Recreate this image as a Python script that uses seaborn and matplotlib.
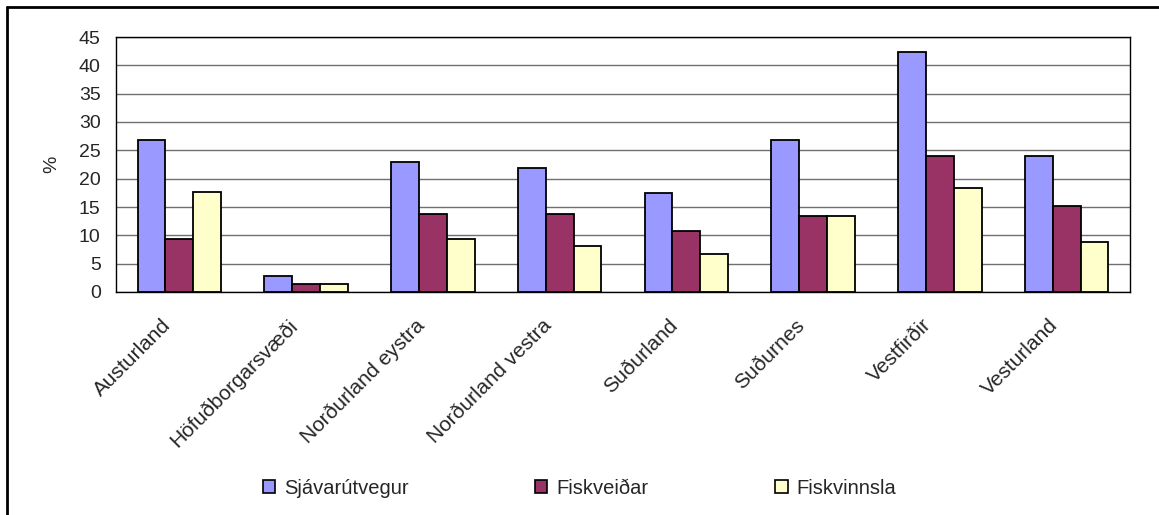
import numpy as np
import pandas as pd
import matplotlib
matplotlib.use("Agg")
import matplotlib.pyplot as plt
import matplotlib.transforms as mtransforms
from matplotlib.patches import Patch
from matplotlib.lines import Line2D
import seaborn as sns

# gögn lesin af myndinni
regions = ["Austurland", "Höfuðborgarsvæði", "Norðurland eystra", "Norðurland vestra",
           "Suðurland", "Suðurnes", "Vestfirðir", "Vesturland"]
series = ["Sjávarútvegur", "Fiskveiðar", "Fiskvinnsla"]
sjavarutvegur = [26.8, 2.8, 22.9, 21.9, 17.4, 26.8, 42.4, 24.0]
fiskveidar = [9.3, 1.4, 13.8, 13.8, 10.7, 13.4, 24.0, 15.2]
fiskvinnsla = [17.7, 1.4, 9.3, 8.1, 6.7, 13.4, 18.4, 8.9]
colors = ["#9999FF", "#993366", "#FFFFCC"]
yticks = list(range(0, 50, 5))

df = pd.DataFrame({
    "Svæði": regions * 3,
    "Hlutfall": sjavarutvegur + fiskveidar + fiskvinnsla,
    "Grein": [s for s in series for _ in regions],
})

sns.set_style("white")
plt.rcParams["font.family"] = ["Liberation Sans", "DejaVu Sans"]

W, H = 1159, 515
fig = plt.figure(figsize=(W / 100, H / 100), dpi=100)
ax = fig.add_axes([116 / W, 1 - 292 / H, (1130 - 116) / W, (292 - 37) / H])

sns.barplot(data=df, x="Svæði", y="Hlutfall", hue="Grein", palette=colors,
            saturation=1, edgecolor="black", linewidth=1.3, width=0.66,
            legend=False, ax=ax)

ax.set_ylim(0, 45)
ax.set_xlim(-0.5, 7.5)
ax.set_yticks(yticks)
ax.grid(axis="y", color="#707070", lw=1)
ax.set_axisbelow(True)
for sp in ax.spines.values():
    sp.set_color("black")
    sp.set_linewidth(1)

# x ás: merki milli flokka, textar á miðju
ax.set_xticks(range(len(regions)))
ax.set_xticks(np.arange(-0.5, len(regions), 1), minor=True)
ax.set_xticklabels(regions, rotation=45, ha="right", va="top", rotation_mode="anchor")
ax.tick_params(axis="x", which="major", length=0, pad=17, labelsize=15)
ax.tick_params(axis="x", which="minor", length=5, direction="out", color="black", width=1)
offset = mtransforms.ScaledTranslation(-18 / 100, 0, fig.dpi_scale_trans)
for lbl in ax.get_xticklabels():
    lbl.set_transform(lbl.get_transform() + offset)

ax.tick_params(axis="y", length=5, direction="out", color="black", width=1, pad=6, labelsize=14)
ax.set_xlabel("")
ax.set_ylabel("%", fontsize=14)
ax.yaxis.set_label_coords(-0.055, 0.5)

handles = [Patch(facecolor=c, edgecolor="black", lw=1.2) for c in colors]
fig.legend(handles, series, loc="center", bbox_to_anchor=(0.5, 1 - 488 / H), ncol=3,
           frameon=False, fontsize=14.5, handlelength=0.6, handleheight=0.6,
           handletextpad=0.45, columnspacing=6.3)

# rammi utan um (efri og vinstri hlið)
fig.add_artist(Line2D([7 / W, 1], [1 - 7 / H] * 2, transform=fig.transFigure, color="black", lw=2))
fig.add_artist(Line2D([7 / W] * 2, [0, 1 - 7 / H], transform=fig.transFigure, color="black", lw=2))

fig.savefig("out.png", dpi=100)
